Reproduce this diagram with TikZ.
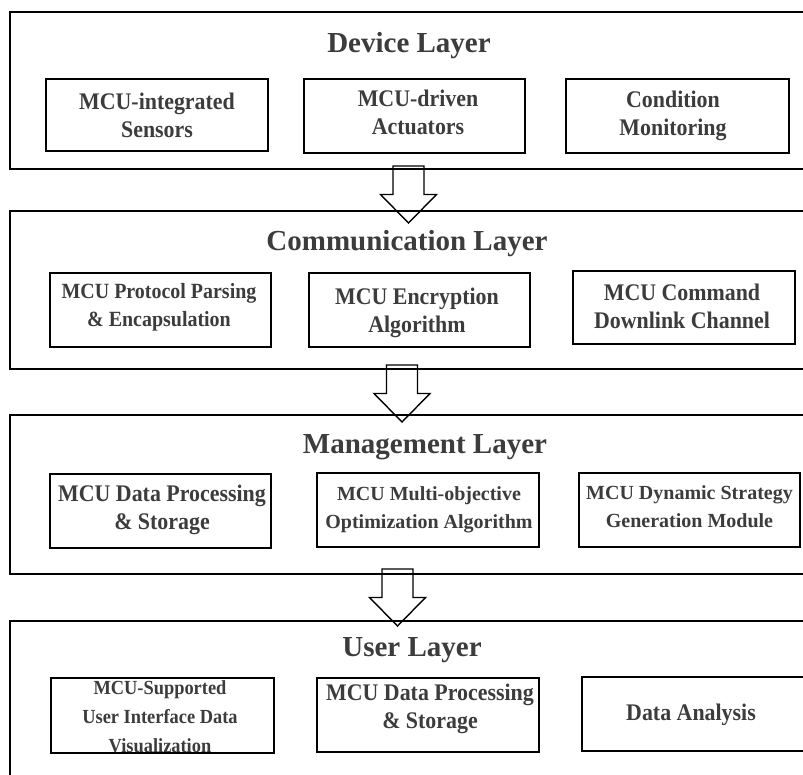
\documentclass[tikz,border=0pt]{standalone}
\usepackage{fontspec}
\setmainfont{Liberation Serif}
\newfontfamily\condfont{Liberation Serif}[FakeStretch=0.92]
\definecolor{txtgray}{RGB}{60,60,60}
\begin{document}
\begin{tikzpicture}[x=1pt,y=-1pt,
  layer/.style={draw=black,line width=2pt},
  box/.style={draw=black,line width=1.8pt,inner sep=0pt},
  title/.style={anchor=base,text=txtgray,font=\fontsize{29}{34}\selectfont\bfseries,inner sep=0pt},
  tb/.style={anchor=base,text=txtgray,align=center,inner sep=0pt,font=\condfont\fontsize{23.8}{28}\selectfont\bfseries},
  tc/.style={anchor=base,text=txtgray,align=center,inner sep=0pt,font=\condfont\fontsize{21.7}{28}\selectfont\bfseries},
  tm/.style={anchor=base,text=txtgray,align=center,inner sep=0pt,font=\fontsize{20}{28}\selectfont\bfseries},
  ts/.style={anchor=base,text=txtgray,align=center,inner sep=0pt,font=\condfont\fontsize{20}{29}\selectfont\bfseries},
  arrowline/.style={draw=black,line width=1.4pt,line join=miter},
  downarrow/.pic={\draw[arrowline] (-15.5,0) -- (-15.5,28.5) -- (-28,28.5) -- (0,57) -- (28,28.5) -- (15.5,28.5) -- (15.5,0) -- cycle;}
]
\useasboundingbox (0,0) rectangle (803,774);
\clip (0,0) rectangle (803,774);
\fill[white] (0,0) rectangle (803,774);

% layers
\draw[layer] (10,12) rectangle (830,169);
\draw[layer] (10,211) rectangle (830,369);
\draw[layer] (10,415) rectangle (830,574);
\draw[layer] (10,621) rectangle (830,800);

% titles
\node[title] (t1) at (409,52) {Device Layer};
\node[title] (t2) at (407,250) {Communication Layer};
\node[title] (t3) at (425,453) {Management Layer};
\node[title] (t4) at (412,656) {User Layer};

% device boxes
\node[box,minimum width=222,minimum height=72] (d1) at (157,115) {};
\node[box,minimum width=221,minimum height=74] (d2) at (414.5,116) {};
\node[box,minimum width=223,minimum height=74] (d3) at (677.5,116) {};
\node[tb] (d1t) at (157,137) {MCU-integrated\\Sensors};
\node[tb] (d2t) at (418,134) {MCU-driven\\Actuators};
\node[tb] (d3t) at (673,135) {Condition\\Monitoring};

% communication boxes
\node[box,minimum width=221,minimum height=74] (c1) at (160.5,310) {};
\node[box,minimum width=221,minimum height=74] (c2) at (419.5,310) {};
\node[box,minimum width=222,minimum height=73] (c3) at (684,307.5) {};
\node[tc] (c1t) at (159,326) {MCU Protocol Parsing\\\& Encapsulation};
\node[tb] (c2t) at (417,332) {MCU Encryption\\Algorithm};
\node[tb] (c3t) at (682,328) {MCU Command\\Downlink Channel};

% management boxes
\node[box,minimum width=221,minimum height=74] (m1) at (160.5,511) {};
\node[box,minimum width=222,minimum height=74] (m2) at (428,510) {};
\node[box,minimum width=221,minimum height=74] (m3) at (689.5,510) {};
\node[tb] (m1t) at (162,529) {MCU Data Processing\\\& Storage};
\node[tm] (m2t) at (429,528) {MCU Multi-objective\\Optimization Algorithm};
\node[tm] (m3t) at (689.5,527) {MCU Dynamic Strategy\\Generation Module};

% user boxes
\node[box,minimum width=223,minimum height=75] (u1) at (162.5,715.5) {};
\node[box,minimum width=222,minimum height=74] (u2) at (428,715) {};
\node[box,minimum width=223,minimum height=74] (u3) at (693.5,714) {};
\node[ts] (u1t) at (160,752) {MCU-Supported\\User Interface Data\\Visualization};
\node[tb] (u2t) at (430,728) {MCU Data Processing\\\& Storage};
\node[tb] (u3t) at (691,720) {Data Analysis};

% arrows
\pic at (408.5,166) {downarrow};
\pic at (402,365) {downarrow};
\pic at (397.5,569) {downarrow};
\end{tikzpicture}
\end{document}
